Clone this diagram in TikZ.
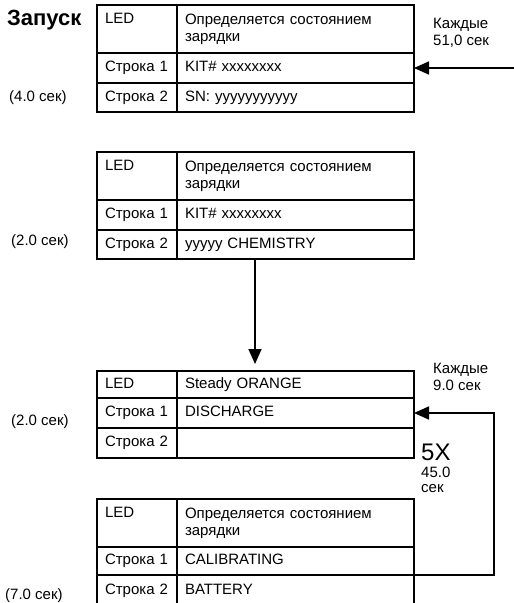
\documentclass[tikz,border=0pt]{standalone}
\usepackage{fontspec}
\setmainfont{Liberation Sans}
\usetikzlibrary{arrows.meta}

\tikzset{
  cell/.style={draw, line width=1.8pt, anchor=north west, outer sep=0pt,
    inner xsep=8pt, inner ysep=0pt, align=left},
  key/.style={cell, text width=64pt},
  val/.style={cell, text width=221pt},
  oneline/.style={text height=11pt, text depth=3.5pt},
  keytop/.style={key, minimum height=48pt, text height=18.5pt, text depth=29.5pt},
  note/.style={inner sep=0pt, anchor=north west, align=left},
  dur/.style={inner sep=0pt, anchor=base west},
  flow/.style={->, line width=1.7pt},
}

\begin{document}
\begin{tikzpicture}[x=1pt, y=-1pt, >={Triangle[length=15pt,width=13pt]},
  font=\fontsize{15}{17}\selectfont]
  \useasboundingbox (0,0) rectangle (514,603);

  % first screen
  \node[keytop] (aLED) at (97,5) {LED};
  \node[val, minimum height=48pt] (aLEDv) at (aLED.north east) {Определяется состоянием\\зарядки};
  \node[key, oneline, minimum height=30pt] (aR1) at (aLED.south west) {Строка 1};
  \node[val, oneline, minimum height=30pt] (aR1v) at (aR1.north east) {KIT\# xxxxxxxx};
  \node[key, oneline, minimum height=29pt] (aR2) at (aR1.south west) {Строка 2};
  \node[val, oneline, minimum height=29pt] (aR2v) at (aR2.north east) {SN: yyyyyyyyyyy};

  % second screen
  \node[keytop] (bLED) at (97,152) {LED};
  \node[val, minimum height=48pt] (bLEDv) at (bLED.north east) {Определяется состоянием\\зарядки};
  \node[key, oneline, minimum height=30pt] (bR1) at (bLED.south west) {Строка 1};
  \node[val, oneline, minimum height=30pt] (bR1v) at (bR1.north east) {KIT\# xxxxxxxx};
  \node[key, oneline, minimum height=29pt] (bR2) at (bR1.south west) {Строка 2};
  \node[val, oneline, minimum height=29pt] (bR2v) at (bR2.north east) {yyyyy CHEMISTRY};

  % discharge screen
  \node[key, oneline, minimum height=27pt] (cLED) at (97,371) {LED};
  \node[val, oneline, minimum height=27pt] (cLEDv) at (cLED.north east) {Steady ORANGE};
  \node[key, oneline, minimum height=30pt] (cR1) at (cLED.south west) {Строка 1};
  \node[val, oneline, minimum height=30pt] (cR1v) at (cR1.north east) {DISCHARGE};
  \node[key, oneline, minimum height=30pt] (cR2) at (cR1.south west) {Строка 2};
  \node[val, oneline, minimum height=30pt] (cR2v) at (cR2.north east) {};

  % calibrating screen
  \node[keytop] (dLED) at (97,499) {LED};
  \node[val, minimum height=48pt] (dLEDv) at (dLED.north east) {Определяется состоянием\\зарядки};
  \node[key, oneline, minimum height=28pt] (dR1) at (dLED.south west) {Строка 1};
  \node[val, oneline, minimum height=28pt] (dR1v) at (dR1.north east) {CALIBRATING};
  \node[key, oneline, minimum height=31pt] (dR2) at (dR1.south west) {Строка 2};
  \node[val, oneline, minimum height=31pt] (dR2v) at (dR2.north east) {BATTERY};

  % labels
  \node[dur, font=\fontsize{22}{24}\selectfont\bfseries] (start) at (7,25) {Запуск};
  \node[dur] (tA) at (9,101) {(4.0 сек)};
  \node[dur] (tB) at (11,245) {(2.0 сек)};
  \node[dur] (tC) at (11,425) {(2.0 сек)};
  \node[dur] (tD) at (5,599) {(7.0 сек)};
  \node[note] (everyA) at (433,18) {Каждые\\51,0 сек};
  \node[note] (everyC) at (433,363) {Каждые\\9.0 сек};
  \node[dur, font=\fontsize{24}{26}\selectfont] (times) at (421,460) {5X};
  \node[note, font=\fontsize{15}{15}\selectfont] (total) at (421,467) {45.0\\сек};

  % arrows
  \coordinate (feed) at (514,68);
  \coordinate (drop) at (255,0);
  \draw[flow] (feed) -- (aR1v.east);
  \draw[flow, shorten >=7pt] (bR2v.south -| drop) -- (cLEDv.north -| drop);
  \draw[flow] (dR1v.south east) -- ++(80,0) |- (cR1v.east);
\end{tikzpicture}
\end{document}
